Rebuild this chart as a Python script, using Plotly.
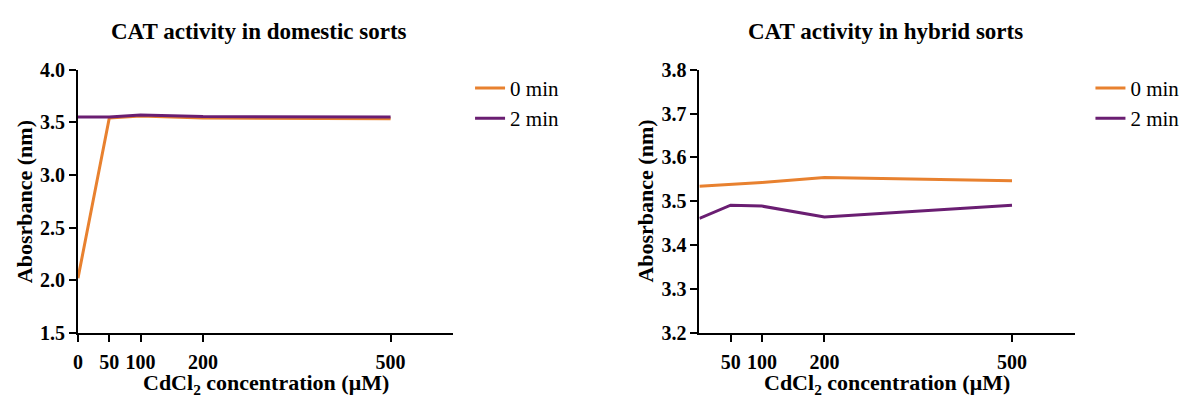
import plotly.graph_objects as go

# ---- data ----
concentration = [0, 50, 100, 200, 500]
tick_vals_left = [0, 50, 100, 200, 500]
tick_vals_right = [50, 100, 200, 500]

domestic_0min = [2.02, 3.54, 3.56, 3.54, 3.535]
domestic_2min = [3.55, 3.55, 3.57, 3.555, 3.55]

hybrid_0min = [3.534, 3.538, 3.543, 3.554, 3.547]
hybrid_2min = [3.461, 3.491, 3.489, 3.464, 3.491]

series_names = ["0 min", "2 min"]
titles = ["CAT activity in domestic sorts", "CAT activity in hybrid sorts"]
x_title = "CdCl<sub>2</sub> concentration (μM)"
y_title = "Abosrbance (nm)"

ORANGE = "#E8812F"
PURPLE = "#6A1E72"
FONT = "Liberation Serif, Times New Roman, DejaVu Serif, serif"
W, H = 1198, 412

fig = go.Figure()

fig.add_trace(go.Scatter(x=concentration, y=domestic_0min, mode="lines", name=series_names[0],
                         line=dict(color=ORANGE, width=3), xaxis="x", yaxis="y", legend="legend"))
fig.add_trace(go.Scatter(x=concentration, y=domestic_2min, mode="lines", name=series_names[1],
                         line=dict(color=PURPLE, width=3), xaxis="x", yaxis="y", legend="legend"))
fig.add_trace(go.Scatter(x=concentration, y=hybrid_0min, mode="lines", name=series_names[0],
                         line=dict(color=ORANGE, width=3), xaxis="x2", yaxis="y2", legend="legend2"))
fig.add_trace(go.Scatter(x=concentration, y=hybrid_2min, mode="lines", name=series_names[1],
                         line=dict(color=PURPLE, width=3), xaxis="x2", yaxis="y2", legend="legend2"))

# pixel geometry
L1, R1 = 73.3, 450.0
L2, R2 = 697.3, 1074.0
TOP, BOT = 62.0, 340.0

def px(x):
    return x / W

def py(y):
    return (H - y) / H

tickfont = dict(family=FONT, size=20, color="black", weight="bold")
common_x = dict(range=[0, 600], showline=True, linecolor="black", linewidth=2,
                ticks="outside", ticklen=7, tickwidth=2, tickcolor="black",
                showgrid=False, zeroline=False, tickfont=tickfont, fixedrange=True,
                ticklabelstandoff=3)
common_y = dict(showline=True, linecolor="black", linewidth=2,
                ticks="outside", ticklen=7, tickwidth=2, tickcolor="black",
                showgrid=False, zeroline=False, tickfont=tickfont, fixedrange=True)

legfont = dict(family=FONT, size=21, color="black")

fig.update_layout(
    width=W, height=H,
    margin=dict(l=0, r=0, t=0, b=0),
    paper_bgcolor="white", plot_bgcolor="white",
    font=dict(family=FONT, color="black"),
    xaxis=dict(domain=[px(L1), px(R1)], anchor="y", tickvals=tick_vals_left,
               ticktext=[str(v) for v in tick_vals_left], **common_x),
    yaxis=dict(domain=[py(BOT), py(TOP)], anchor="x", range=[1.5, 4.0],
               tickvals=[1.5, 2.0, 2.5, 3.0, 3.5, 4.0], tickformat=".1f", **common_y),
    xaxis2=dict(domain=[px(L2), px(R2)], anchor="y2", tickvals=tick_vals_right,
                ticktext=[str(v) for v in tick_vals_right], **common_x),
    yaxis2=dict(domain=[py(BOT), py(TOP)], anchor="x2", range=[3.2, 3.8],
                tickvals=[3.2, 3.3, 3.4, 3.5, 3.6, 3.7, 3.8], tickformat=".1f", **common_y),
    legend=dict(x=px(467), y=py(60), xanchor="left", yanchor="top", tracegroupgap=0,
                font=legfont, bgcolor="rgba(0,0,0,0)"),
    legend2=dict(x=px(1090), y=py(60), xanchor="left", yanchor="top", tracegroupgap=0,
                 font=legfont, bgcolor="rgba(0,0,0,0)"),
    showlegend=True,
)

ann = []
for cx, t in [(255.5, titles[0]), (884.0, titles[1])]:
    ann.append(dict(x=px(cx), y=py(22), xref="paper", yref="paper", text=t, showarrow=False,
                    xanchor="center", yanchor="middle",
                    font=dict(family=FONT, size=23, color="black", weight="bold")))
for cx in [(L1 + R1) / 2, (L2 + R2) / 2]:
    ann.append(dict(x=px(cx), y=py(394), xref="paper", yref="paper", text=x_title, showarrow=False,
                    xanchor="center", yanchor="middle",
                    font=dict(family=FONT, size=22, color="black", weight="bold")))
for cx in [19.0, 643.0]:
    ann.append(dict(x=px(cx), y=py((TOP + BOT) / 2), xref="paper", yref="paper", text=y_title,
                    showarrow=False, textangle=-90, xanchor="center", yanchor="middle",
                    font=dict(family=FONT, size=22, color="black", weight="bold")))
fig.update_layout(annotations=ann)

fig.write_html("out.html",
               post_script="document.body.style.margin='0';document.body.style.overflow='hidden';")
